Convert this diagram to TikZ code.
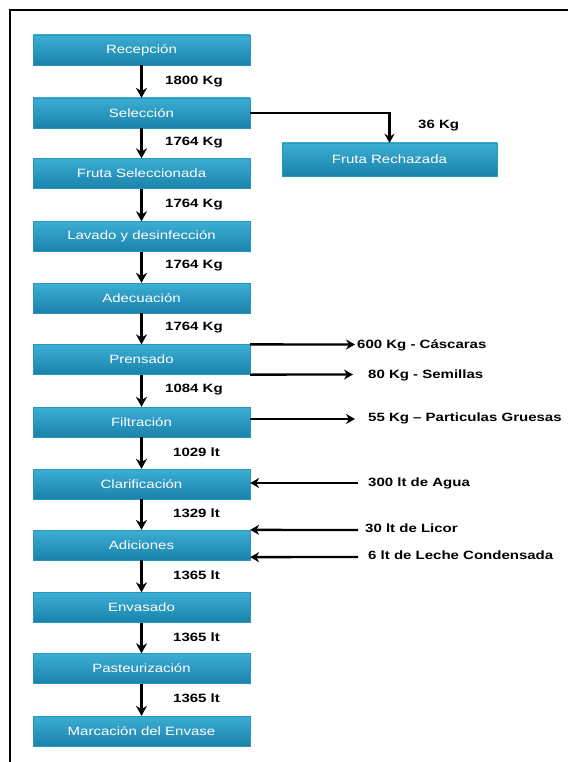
\documentclass[tikz,border=0pt]{standalone}
\usepackage{fontspec}
\setmainfont{Liberation Sans}
\usetikzlibrary{arrows.meta}
\newcommand{\wtxt}[1]{\scalebox{1.25}[1]{#1}}
\tikzset{
  procbox/.style={rectangle, minimum width=217pt, minimum height=30pt, inner sep=0pt,
    top color={rgb,255:red,60;green,174;blue,212}, bottom color={rgb,255:red,26;green,130;blue,170},
    draw={rgb,255:red,40;green,150;blue,190}, line width=0.3pt,
    text=white, font=\fontsize{12}{14}\selectfont},
  flowlbl/.style={anchor=west, inner sep=0pt, font=\fontsize{12}{14}\selectfont\bfseries},
  arr/.style={line width=2.5pt, -{Stealth[length=10pt,width=11pt]}},
  sarr/.style={line width=2.3pt, -{Stealth[length=9pt,width=10pt]}},
  frame/.style={line width=2.5pt}
}
\begin{document}
\begin{tikzpicture}[x=1pt,y=-1pt]
\useasboundingbox (0,0) rectangle (568,762);
% frame
\coordinate (f1) at (568,10);
\coordinate (f2) at (10,10);
\coordinate (f3) at (10,762);
\draw[frame] (f1) -- (f2) -- (f3);

% main boxes
\node[procbox] (rec) at (141.5,50) {\wtxt{Recepción}};
\node[procbox] (sel) at (141.5,113) {\wtxt{Selección}};
\node[procbox] (fse) at (141.5,173.5) {\wtxt{Fruta Seleccionada}};
\node[procbox] (lav) at (141.5,236.5) {\wtxt{Lavado y desinfección}};
\node[procbox] (ade) at (141.5,298) {\wtxt{Adecuación}};
\node[procbox] (pre) at (141.5,359.5) {\wtxt{Prensado}};
\node[procbox] (fil) at (141.5,422) {\wtxt{Filtración}};
\node[procbox] (cla) at (141.5,484) {\wtxt{Clarificación}};
\node[procbox] (adi) at (141.5,545) {\wtxt{Adiciones}};
\node[procbox] (env) at (141.5,607.5) {\wtxt{Envasado}};
\node[procbox] (pas) at (141.5,668.5) {\wtxt{Pasteurización}};
\node[procbox] (mar) at (141.5,731) {\wtxt{Marcación del Envase}};

\node[procbox, minimum width=215pt, minimum height=33pt] (rech) at (389.5,159.5) {\wtxt{Fruta Rechazada}};

% vertical arrows
\draw[arr] (rec) -- (sel);
\draw[arr] (sel) -- (fse);
\draw[arr] (fse) -- (lav);
\draw[arr] (lav) -- (ade);
\draw[arr] (ade) -- (pre);
\draw[arr] (pre) -- (fil);
\draw[arr] (fil) -- (cla);
\draw[arr] (cla) -- (adi);
\draw[arr] (adi) -- (env);
\draw[arr] (env) -- (pas);
\draw[arr] (pas) -- (mar);

% flow labels
\node[flowlbl] (l1) at (165,82) {\wtxt{1800 Kg}};
\node[flowlbl] (l2) at (165,143) {\wtxt{1764 Kg}};
\node[flowlbl] (l3) at (165,205) {\wtxt{1764 Kg}};
\node[flowlbl] (l4) at (165,266) {\wtxt{1764 Kg}};
\node[flowlbl] (l5) at (165,327.5) {\wtxt{1764 Kg}};
\node[flowlbl] (l6) at (165,389.5) {\wtxt{1084 Kg}};
\node[flowlbl] (l7) at (173,452) {\wtxt{1029 lt}};
\node[flowlbl] (l8) at (173,513.5) {\wtxt{1329 lt}};
\node[flowlbl] (l9) at (173,575.5) {\wtxt{1365 lt}};
\node[flowlbl] (l10) at (173,637) {\wtxt{1365 lt}};
\node[flowlbl] (l11) at (173,698) {\wtxt{1365 lt}};

% rejected fruit
\draw[sarr] (sel.east) -| (rech.north);
\node[flowlbl] (r36) at (418,126) {\wtxt{36 Kg}};

% prensado outputs
\coordinate (pc) at (355,344.5);
\coordinate (ps) at (353,374.5);
\draw[sarr] (pre.north east) -- (pc);
\draw[sarr] (pre.south east) -- (ps);
\node[flowlbl] (tc) at (357,345) {\wtxt{600 Kg - Cáscaras}};
\node[flowlbl] (ts) at (368,375) {\wtxt{80 Kg - Semillas}};

% filtracion output
\coordinate (fp) at (355,419);
\draw[sarr] ([yshift=3pt]fil.east) -- (fp);
\node[flowlbl] (tp) at (368,418) {\wtxt{55 Kg – Particulas Gruesas}};

% clarificacion input
\coordinate (ca) at (358,483);
\draw[sarr] (ca) -- ([yshift=1pt]cla.east);
\node[flowlbl] (ta) at (368,483) {\wtxt{300 lt de Agua}};

% adiciones inputs
\coordinate (al) at (358,530);
\coordinate (alc) at (358,557);
\draw[sarr] (al) -- (adi.north east);
\draw[sarr] (alc) -- ([yshift=3pt]adi.south east);
\node[flowlbl] (tl) at (365,528) {\wtxt{30 lt de Licor}};
\node[flowlbl] (tlc) at (368,555) {\wtxt{6 lt de Leche Condensada}};
\end{tikzpicture}
\end{document}
